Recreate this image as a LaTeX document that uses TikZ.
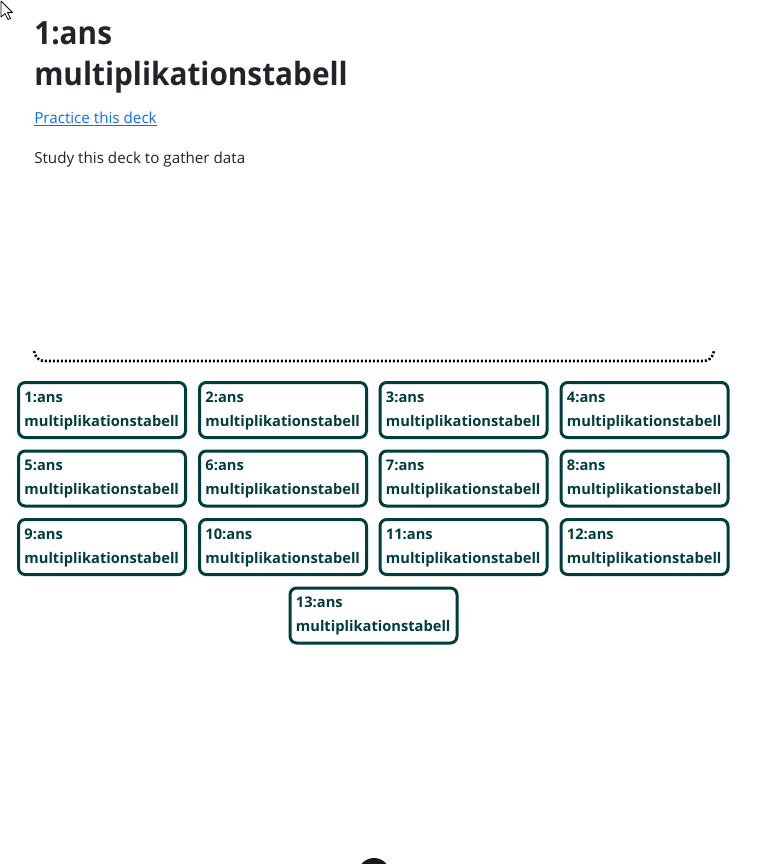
\documentclass[tikz,border=0pt]{standalone}
\usepackage{fontspec}
\setmainfont{Open Sans}
\definecolor{txt}{HTML}{212529}
\definecolor{lnk}{HTML}{0D6EFD}
\definecolor{teal}{HTML}{003D3D}
\tikzset{
  deckbox/.style={draw=teal, line width=2.25pt, rounded corners=5pt,
    minimum width=125.25pt, minimum height=41.25pt, inner sep=0pt},
  decktext/.style={anchor=base west, inner sep=0pt, align=left, text=teal,
    font=\fontsize{11}{18}\selectfont\bfseries},
  plain/.style={anchor=base west, inner sep=0pt, text=txt},
  titletext/.style={anchor=base west, inner sep=0pt, text=txt, font=\fontsize{24}{24}\selectfont\bfseries}
}
\newcommand\deckcard[4]{%
  \node[deckbox] (#1) at (#2,#3) {};
  \node[decktext] (#1t) at ([xshift=5.4pt,yshift=-34.1pt]#1.north west) {#4:ans\\multiplikationstabell};
}
\begin{document}
\begin{tikzpicture}[x=0.75pt,y=-0.75pt]
\useasboundingbox[fill=white] (0,0) rectangle (758,864);
% cursor
\draw[fill=white, line width=0.6pt, line join=round] (1,1) -- (1,17) -- (5,13.5) -- (8,19.5) -- (10.5,18.5) -- (7.5,12.5) -- (12.5,12.5) -- cycle;
% header texts
\node[titletext] (t1) at (34,44) {\scalebox{0.93}[1]{1:ans}};
\node[titletext] (t2) at (34,85) {\scalebox{0.93}[1]{multiplikationstabell}};
\node[plain, text=lnk, font=\fontsize{11.4}{12}\selectfont] (lk) at (34,123) {Practice this deck};
\draw[lnk, line width=0.75pt] ([yshift=-1.5pt]lk.base west) -- ([yshift=-1.5pt]lk.base east);
\node[plain, font=\fontsize{11.4}{12}\selectfont] (st) at (34,163) {Study this deck to gather data};
% dotted border
\draw[line width=1.9pt, dash pattern=on 1.6pt off 1.4pt] (34,351) .. controls (36,359) and (40,361) .. (46,361) -- (702,361) .. controls (708,361) and (712,359) .. (714,351);
% boxes
\deckcard{b1}{102}{410}{1}
\deckcard{b2}{283}{410}{2}
\deckcard{b3}{463.5}{410}{3}
\deckcard{b4}{644.5}{410}{4}
\deckcard{b5}{102}{478.5}{5}
\deckcard{b6}{283}{478.5}{6}
\deckcard{b7}{463.5}{478.5}{7}
\deckcard{b8}{644.5}{478.5}{8}
\deckcard{b9}{102}{547}{9}
\deckcard{b10}{283}{547}{10}
\deckcard{b11}{463.5}{547}{11}
\deckcard{b12}{644.5}{547}{12}
\deckcard{b13}{373.5}{615.5}{13}
% bottom circle
\fill[black!90] (374,874) circle (12pt);
\end{tikzpicture}
\end{document}
